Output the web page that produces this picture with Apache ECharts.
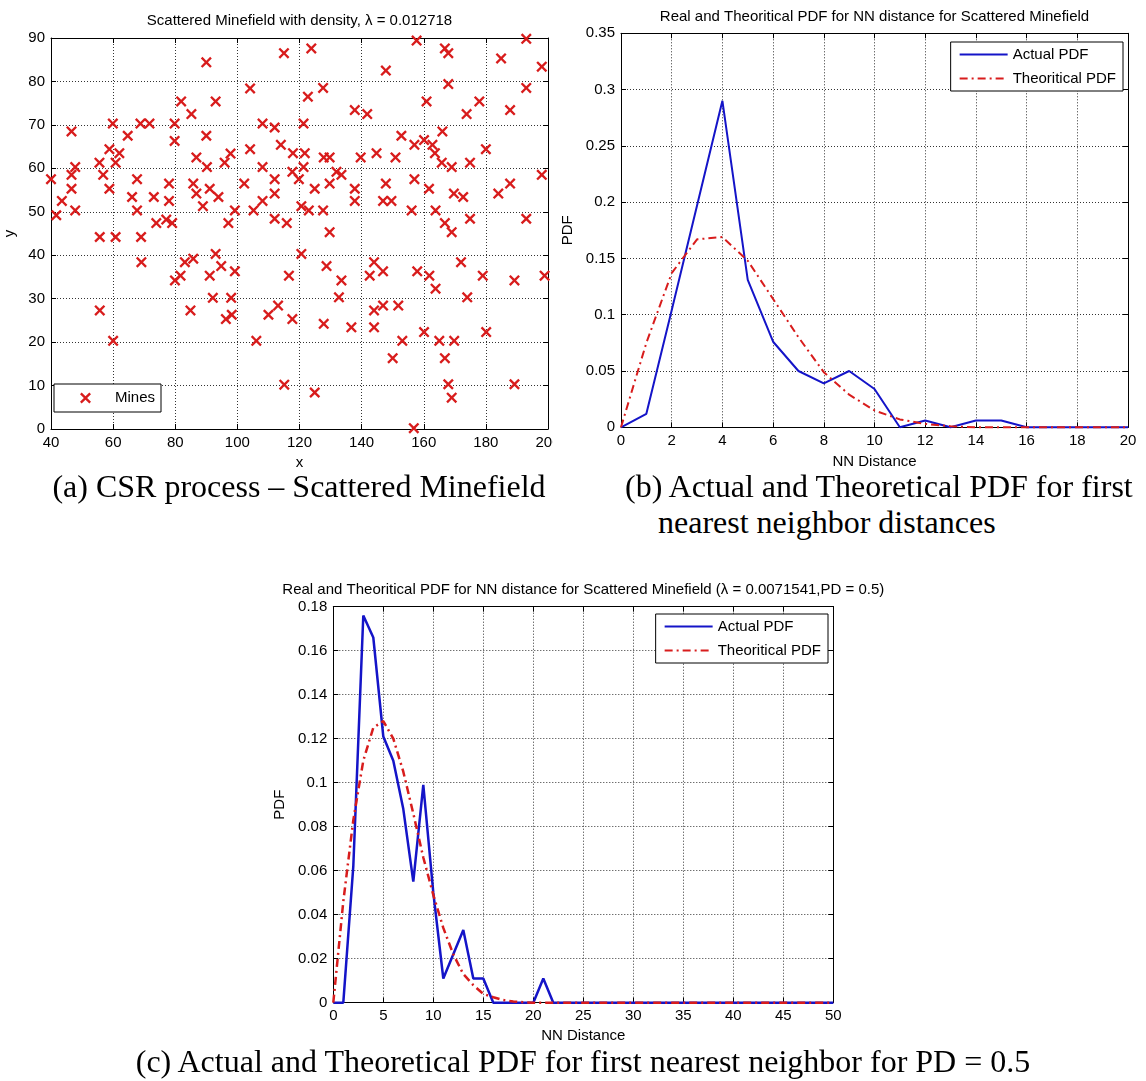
<!DOCTYPE html>
<html>
<head>
<meta charset="utf-8">
<script src="https://cdn.jsdelivr.net/npm/echarts@6/dist/echarts.min.js"></script>
<style>
body{margin:0;background:#fff;width:1146px;height:1081px;position:relative;overflow:hidden}
.chart{position:absolute}
.cap{position:absolute;font-family:'Liberation Serif','Times New Roman',serif;font-size:32px;line-height:32px;color:#000;white-space:nowrap}
</style>
</head>
<body>
<div id="chartA" class="chart" style="left:0;top:0;width:600px;height:480px"></div>
<div id="chartB" class="chart" style="left:553px;top:0;width:593px;height:480px;background:#fff"></div>
<div id="chartC" class="chart" style="left:180px;top:570px;width:800px;height:490px"></div>
<div class="cap" style="left:299px;top:470px;transform:translateX(-50%)">(a) CSR process – Scattered Minefield</div>
<div class="cap" style="left:625px;top:470px">(b) Actual and Theoretical PDF for first</div>
<div class="cap" style="left:658px;top:506px">nearest neighbor distances</div>
<div class="cap" style="left:583px;top:1045px;transform:translateX(-50%)">(c) Actual and Theoretical PDF for first nearest neighbor for PD = 0.5</div>
<script>
// (a) mine positions [x, y]
const mines = [
[40,57.5],[41.7,49.2],[43.5,52.5],[46.6,68.5],[46.6,58.5],[46.6,55.3],[47.8,60.3],[47.8,50.3],
[55.6,61.3],[56.8,58.5],[58.8,64.4],[58.8,55.3],[59.9,70.3],[60.8,61.3],[62,63.5],[64.7,67.5],
[67.7,57.5],[66.1,53.4],[67.7,50.3],[68.8,70.3],[71.7,70.3],[73.1,53.4],[73.9,47.4],[77.1,48.2],
[78,56.5],[78,52.5],[79,47.4],[79.8,70.3],[79.8,66.3],[81.9,75.4],[85.2,72.5],[85.8,56.5],
[86.8,54.2],[86.8,62.5],[88.9,51.3],[90,84.4],[90,67.5],[90.2,60.3],[91.1,55.3],[93,75.4],
[93.9,53.4],[95.9,61.3],[97.8,63.4],[97.1,47.4],[99.2,50.3],[102.2,56.5],[104.1,78.4],[104.1,64.4],
[105.2,50.3],[108.1,70.3],[108.1,60.3],[108.1,52.5],[112,69.4],[112,57.5],[112,54.2],[112,48.4],
[114,65.4],[115,86.5],[115.9,47.4],
[123.8,87.6],[157.7,89.4],[166.8,87.6],[167.9,86.5],[193,89.8],[198,83.4],[147.8,82.5],[184.9,85.3],
[167.9,79.4],[193,78.5],[122.7,76.5],[127.6,78.5],[160.9,75.4],[177.9,75.4],[187.8,73.4],[137.8,73.4],
[141.8,72.5],[173.8,72.5],[121.3,70.3],[166,68.5],[152.8,67.5],[157,65.4],[160.1,66.5],[162.8,65.4],
[163.6,63.5],[180,64.4],[117.9,63.5],[121.7,63.5],[127.8,62.5],[129.7,62.5],[139.7,62.5],[144.8,63.5],
[150.9,62.5],[165.8,61.3],[169,60.3],[174.9,61.3],[117.7,59.2],[121.3,60.3],[119.8,57.5],[131.9,59.2],
[133.5,58.5],[198,58.5],[147.8,56.5],[157,57.5],[124.9,55.3],[129.7,56.5],[137.8,55.3],[137.8,52.5],
[146.9,52.5],[149.6,52.5],[161.7,55.3],[169.7,54.2],[172.7,53.4],[184,54.2],[187.8,56.5],[120.6,51.3],
[123,50.3],[127.6,50.3],[156.1,50.3],[163.8,50.3],[174.9,48.4],[193,48.4],[166.8,47.4],
[55.7,44.2],[60.8,44.2],[69,44.2],[69.1,38.4],[79.9,34.2],[81.7,35.3],[83.1,38.4],[85.8,39.2],
[93,40.3],[94.8,37.5],[91.1,35.3],[99.2,36.3],[92.1,30.2],[98,30.2],[55.7,27.3],[84.9,27.3],
[96.3,25.3],[98.2,26.3],[60,20.3],[106.1,20.3],[110,26.3],[113.1,28.4],[115.1,10.2],
[129.7,45.3],[169,45.3],[120.6,40.3],[128.7,37.5],[133.5,34.2],[132.7,30.3],[116.6,35.3],[144,38.4],
[142.6,35.3],[146.9,36.3],[157.9,36.3],[161.8,35.3],[163.8,32.3],[172,38.4],[179,35.3],[189.2,34.2],
[198.9,35.3],[174,30.3],[144,27.3],[146.9,28.4],[151.8,28.4],[117.7,25.3],[127.8,24.2],[136.7,23.4],
[144,23.4],[160.1,22.3],[180.1,22.3],[153.1,20.3],[165,20.3],[169.8,20.3],[150,16.3],[166.8,16.3],
[124.9,8.4],[167.9,10.3],[169,7.2],[189.2,10.3],[156.8,0.2]
]

// (b) first NN distance pdf
const nnDistB = [0,1,2,3,4,5,6,7,8,9,10,11,12,13,14,15,16,17,18,19,20]
const actualPdfB = [0,0.012,0.104,0.197,0.29,0.131,0.076,0.050,0.039,0.050,0.034,0,0.006,0,0.006,0.006,0,0,0,0,0]
const theoryPdfB = [0,0.075,0.137,0.167,0.169,0.148,0.114,0.080,0.049,0.029,0.015,0.007,0.003,0.001,0,0,0,0,0,0,0]

// (c) first NN distance pdf, PD = 0.5
const nnDistC = [0,1,2,3,4,5,6,7,8,9,10,11,12,13,14,15,16,17,18,19,20,21,22,23,24,25,
26,27,28,29,30,31,32,33,34,35,36,37,38,39,40,41,42,43,44,45,46,47,48,49,50]
const actualPdfC = [0,0,0.062,0.176,0.166,0.121,0.110,0.088,0.055,0.099,0.050,0.011,0.022,0.033,0.011,0.011,
0,0,0,0,0,0.011,0,0,0,0,0,0,0,0,0,0,0,0,0,0,0,0,0,0,0,0,0,0,0,0,0,0,0,0,0]
const theoryPdfC = [0,0.046,0.083,0.110,0.125,0.128,0.120,0.105,0.086,0.066,0.049,0.034,0.022,0.013,0.008,0.004,
0.0025,0.0012,0.0005,0.0002,0,0,0,0,0,0,0,0,0,0,0,0,0,0,0,0,0,0,0,0,0,0,0,0,0,0,0,0,0,0,0]

const FONT = "'Liberation Sans', Arial, sans-serif"
const BLUE = '#1414c8'
const RED = '#d81c1c'
const X_MARK = 'path://M0,3L3,0L10,7L17,0L20,3L13,10L20,17L17,20L10,13L3,20L0,17L7,10Z'

function pairs(xs, ys) {
  return xs.map((x, i) => [x, ys[i]])
}

// bottom/left axes with labels + grid, top/right axes only for the box and ticks
function axes(xr, yr, xName, yName, xGap, yGap) {
  const label = { fontFamily: FONT, fontSize: 15, color: '#000' }
  const line = { show: true, onZero: false, lineStyle: { color: '#000', width: 1 } }
  const tick = { show: true, inside: true, length: 5, lineStyle: { color: '#000' } }
  const grid = { show: true, lineStyle: { color: '#333', width: 1, type: [1, 2] } }
  return {
    xAxis: [
      { type: 'value', min: xr[0], max: xr[1], interval: xr[2], position: 'bottom',
        name: xName, nameLocation: 'middle', nameGap: xGap, nameTextStyle: label,
        axisLine: line, axisTick: tick, axisLabel: Object.assign({ margin: 6 }, label), splitLine: grid },
      { type: 'value', min: xr[0], max: xr[1], interval: xr[2], position: 'top',
        axisLine: line, axisTick: tick, axisLabel: { show: false }, splitLine: { show: false } }
    ],
    yAxis: [
      { type: 'value', min: yr[0], max: yr[1], interval: yr[2], position: 'left',
        name: yName, nameLocation: 'middle', nameGap: yGap, nameTextStyle: label,
        axisLine: line, axisTick: tick, axisLabel: Object.assign({ margin: 6 }, label), splitLine: grid },
      { type: 'value', min: yr[0], max: yr[1], interval: yr[2], position: 'right',
        axisLine: line, axisTick: tick, axisLabel: { show: false }, splitLine: { show: false } }
    ]
  }
}

function titleText(text, x, y) {
  return { type: 'text', x: x, y: y, silent: true,
    style: { text: text, fill: '#000', fontFamily: FONT, fontSize: 15, align: 'center', verticalAlign: 'middle' } }
}

function pdfLegend(right, top) {
  return {
    orient: 'vertical', right: right, top: top, padding: [5, 7, 5, 8],
    itemWidth: 48, itemHeight: 14, itemGap: 9,
    backgroundColor: '#fff', borderColor: '#000', borderWidth: 1, borderRadius: 0,
    // line sample only, no marker
    itemStyle: { opacity: 0, borderWidth: 0 },
    textStyle: { fontFamily: FONT, fontSize: 15, color: '#000', lineHeight: 15 },
    data: ['Actual PDF', 'Theoritical PDF']
  }
}

function pdfSeries(xs, actual, theory, width) {
  return [
    { name: 'Actual PDF', type: 'line', data: pairs(xs, actual), symbol: 'none', clip: false, z: 2,
      lineStyle: { color: BLUE, width: width }, itemStyle: { color: BLUE } },
    // theoretical curve drawn over the actual one, as in the original
    { name: 'Theoritical PDF', type: 'line', data: pairs(xs, theory), symbol: 'none', clip: false, z: 3,
      lineStyle: { color: RED, width: width, type: [8, 4, 2, 4] }, itemStyle: { color: RED } }
  ]
}

// (a) scatter
const chartA = echarts.init(document.getElementById('chartA'))
chartA.setOption(Object.assign({
  animation: false,
  grid: { left: 51, top: 38, width: 497, height: 391, outerBoundsMode: 'none' },
  graphic: [titleText('Scattered Minefield with density, \u03bb = 0.012718', 299.5, 21)],
  legend: {
    left: 54, top: 384, padding: [6.5, 6, 6.5, 26], itemWidth: 11, itemHeight: 11,
    backgroundColor: '#fff', borderColor: '#000', borderWidth: 1, borderRadius: 0,
    textStyle: { fontFamily: FONT, fontSize: 15, color: '#000', lineHeight: 15, padding: [0, 0, 0, 19] },
    data: ['Mines']
  },
  series: [{
    name: 'Mines', type: 'scatter', data: mines, symbol: X_MARK, symbolSize: 11,
    symbolKeepAspect: true, itemStyle: { color: RED, opacity: 1 }
  }]
}, axes([40, 200, 20], [0, 90, 10], 'x', 'y', 25, 30)))

// (b) pdf
const chartB = echarts.init(document.getElementById('chartB'))
chartB.setOption(Object.assign({
  animation: false,
  grid: { left: 68, top: 33.3, width: 507, height: 394, outerBoundsMode: 'none' },
  graphic: [titleText('Real and Theoritical PDF for NN distance for Scattered Minefield', 321.5, 17)],
  legend: pdfLegend(23, 42),
  series: pdfSeries(nnDistB, actualPdfB, theoryPdfB, 2)
}, axes([0, 20, 2], [0, 0.35, 0.05], 'NN Distance', 'PDF', 27, 38)))

// (c) pdf for PD = 0.5
const chartC = echarts.init(document.getElementById('chartC'))
chartC.setOption(Object.assign({
  animation: false,
  grid: { left: 153.3, top: 36.7, width: 500, height: 396, outerBoundsMode: 'none' },
  graphic: [titleText('Real and Theoritical PDF for NN distance for Scattered Minefield (\u03bb = 0.0071541,PD = 0.5)', 403.3, 19.5)],
  legend: pdfLegend(152, 44),
  series: pdfSeries(nnDistC, actualPdfC, theoryPdfC, 2.5)
}, axes([0, 50, 5], [0, 0.18, 0.02], 'NN Distance', 'PDF', 26, 44)))
</script>
</body>
</html>
